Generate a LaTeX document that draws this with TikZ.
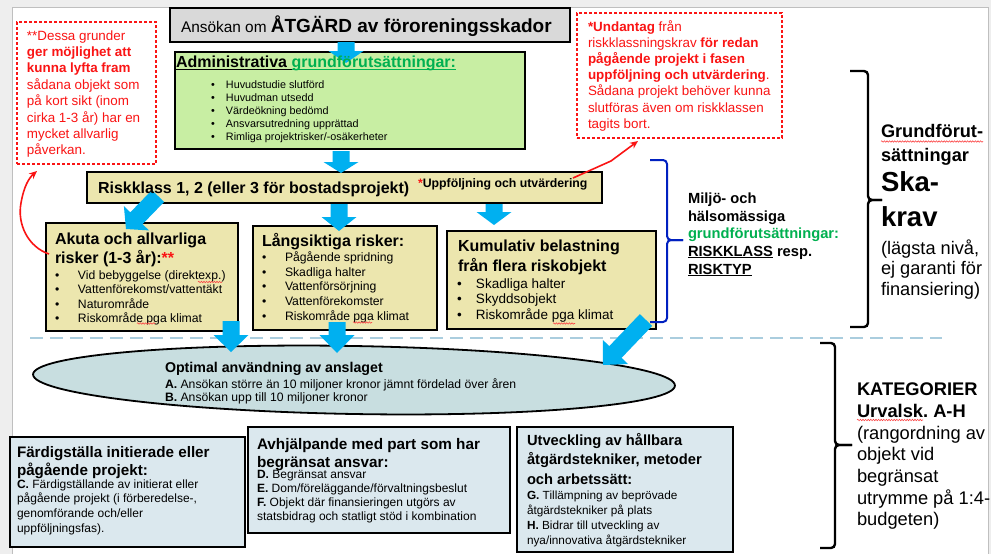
\documentclass[tikz,border=0pt]{standalone}
\usepackage{fontspec}
\setmainfont{Liberation Sans}
\usetikzlibrary{arrows.meta,shapes.geometric,calc,decorations.pathmorphing}
\definecolor{arrowblue}{RGB}{0,176,240}
\definecolor{greenfill}{RGB}{200,238,163}
\definecolor{khaki}{RGB}{236,230,174}
\definecolor{ellfill}{RGB}{200,222,224}
\definecolor{bluebox}{RGB}{219,232,238}
\definecolor{greentext}{RGB}{0,176,80}
\definecolor{redc}{RGB}{250,20,20}
\definecolor{titlegray}{RGB}{217,217,217}
\definecolor{dashblue}{RGB}{170,205,222}
\definecolor{braceblue}{RGB}{0,32,192}
\definecolor{stripgray}{RGB}{238,238,238}
\newcommand\fs[2]{\fontsize{#1}{#2}\selectfont}
\newcommand\tb[1]{\begin{tabular}[t]{@{}l@{}}#1\end{tabular}}
\newcommand\bul[1]{\makebox[#1][l]{•}}
\newcommand\myul[1]{\setbox0\hbox{#1}\rlap{\rule[-1.9pt]{\wd0}{1.1pt}}\box0\relax}
\newcommand\barrow[3][14pt]{%
  \coordinate (hb) at ($(#3)!#1!(#2)$);
  \fill[arrowblue] ($(#2)!8.5pt!90:(#3)$) -- ($(hb)!8.5pt!-90:(#2)$) -- ($(hb)!17.5pt!-90:(#2)$) -- (#3)
    -- ($(hb)!17.5pt!90:(#2)$) -- ($(hb)!8.5pt!90:(#2)$) -- ($(#2)!8.5pt!-90:(#3)$) -- cycle;}
\tikzset{
  box/.style={draw=black, line width=1.8pt, inner sep=0pt},
  notebox/.style={draw=redc, dash pattern=on 3pt off 2pt, line width=1.1pt, inner sep=0pt},
  txt/.style={anchor=base west, inner sep=0pt, outer sep=0pt},
  bracepath/.style={line width=2.4pt, rounded corners=4pt},
  squiggle/.style={draw=redc!80, line width=0.6pt, decorate, decoration={snake, amplitude=0.7pt, segment length=2.6pt}},
}
\begin{document}
\begin{tikzpicture}[x=1pt,y=-1pt]
\useasboundingbox (0,0) rectangle (991,554);
\fill[stripgray] (0,0) rectangle (991,554);
\fill[white] (12,7) rectangle (988,554);
\draw[black!25, line width=0.8pt] (12,554) -- (12,7) -- (988,7) -- (988,554);

% red notes
\node[notebox, minimum width=139, minimum height=142] (noteL) at (86.5,93) {};
\node[notebox, minimum width=205, minimum height=125] (noteR) at (679.5,75.5) {};

% boxes
\node[box, fill=titlegray, minimum width=400, minimum height=34] (title) at (370,25) {};
\node[box, fill=greenfill, minimum width=350, minimum height=97] (admin) at (350,100.5) {};
\node[box, fill=khaki, minimum width=515, minimum height=31] (risk) at (344.5,187.5) {};
\node[box, fill=khaki, minimum width=192, minimum height=108] (akuta) at (142,277) {};
\node[box, fill=khaki, minimum width=184, minimum height=104] (lang) at (345,278) {};
\node[box, fill=khaki, minimum width=209, minimum height=98] (kum) at (551.5,280) {};
\node[box, fill=bluebox, minimum width=235, minimum height=110] (fard) at (127.5,492) {};
\node[box, fill=bluebox, minimum width=262, minimum height=106] (avhj) at (379,480) {};
\node[box, fill=bluebox, minimum width=216, minimum height=125] (utv) at (625,489.5) {};

% dashed separator
\coordinate (dashL) at (30,337.5);
\coordinate (dashR) at (942,337.5);
\draw[dashblue, line width=2pt, dash pattern=on 13pt off 7pt] (dashL) -- (dashR);

% ellipse
\node[ellipse, draw=black, line width=1.8pt, fill=ellfill, minimum width=642, minimum height=68, inner sep=0pt, rotate=-1] (ell) at (354,380) {};

% blue block arrows
\coordinate (a1s) at (346,42);  \coordinate (a1e) at (346,63);
\coordinate (a2s) at (341,151); \coordinate (a2e) at (341,173);
\coordinate (a3s) at (158,196); \coordinate (a3e) at (126,229);
\coordinate (a4s) at (339,204); \coordinate (a4e) at (339,231);
\coordinate (a5s) at (494,204); \coordinate (a5e) at (494,225);
\coordinate (a6s) at (231,321); \coordinate (a6e) at (231,352);
\coordinate (a7s) at (337,322); \coordinate (a7e) at (337,353);
\coordinate (a8s) at (646,320); \coordinate (a8e) at (603,365);
\barrow[12pt]{a1s}{a1e}
\barrow[11pt]{a2s}{a2e}
\barrow[15pt]{a3s}{a3e}
\barrow[14pt]{a4s}{a4e}
\barrow[13pt]{a5s}{a5e}
\barrow[17pt]{a6s}{a6e}
\barrow[18pt]{a7s}{a7e}
\barrow[18pt]{a8s}{a8e}

% red arrows
\coordinate (rl1) at (49,254); \coordinate (rl2) at (37,171);
\draw[redc, line width=1.6pt, -{Stealth[length=8pt,width=7pt]}] (rl1) .. controls (28,247) and (17,224) .. (21,203) .. controls (24,186) and (29,178) .. (rl2);
\coordinate (rr1) at (573,178); \coordinate (rr2) at (611,161); \coordinate (rr3) at (638,141);
\draw[redc, line width=1.6pt, -{Stealth[length=8pt,width=7pt]}] (rr1) -- (rr2) -- (rr3);

% braces
\draw[braceblue, line width=2pt, rounded corners=4pt] (650,160) -- (667,160) -- (667,240) -- (683,240);
\draw[braceblue, line width=2pt, rounded corners=4pt] (683,240) -- (667,240) -- (667,322) -- (650,322);
\draw[black, bracepath] (850,71) -- (868,71) -- (868,200) -- (882,200);
\draw[black, bracepath] (882,200) -- (868,200) -- (868,327) -- (850,327);
\draw[black, bracepath] (820,343) -- (835,343) -- (835,445) -- (852,445);
\draw[black, bracepath] (852,445) -- (835,445) -- (835,548) -- (820,548);

% texts
\node[txt] (titletxt) at (181,32.3) {{\fs{15.4}{18}Ansökan om\ }{\fs{19}{22}\bfseries ÅTGÄRD av föroreningsskador}};
\node[txt, font=\fs{16}{19}\bfseries] (admtitle) at (176,67.7) {\myul{Administrativa }\textcolor{greentext}{\myul{grundförutsättningar:}}};
\node[txt, font=\fs{10.8}{13}] (admlist) at (211,88.5) {\tb{\bul{15pt}Huvudstudie slutförd\\\bul{15pt}Huvudman utsedd\\\bul{15pt}Värdeökning bedömd\\\bul{15pt}Ansvarsutredning upprättad\\\bul{15pt}Rimliga projektrisker/-osäkerheter}};
\node[txt, font=\fs{16}{19}\bfseries] (risktxt) at (98,193.3) {Riskklass 1, 2 (eller 3 för bostadsprojekt)};
\node[txt, font=\fs{12.3}{14}\bfseries] (uppf) at (418,187.5) {\textcolor{redc}{*}Uppföljning och utvärdering};

\node[txt, font=\fs{16}{19}\bfseries] (akutatitle) at (55,244.3) {\tb{Akuta och allvarliga\\risker (1-3 år):\textcolor{redc}{**}}};
\node[txt, font=\fs{12.2}{14.5}] (akutalist) at (55,279.3) {\tb{\bul{23pt}Vid bebyggelse (direktexp.)\\\bul{23pt}Vattenförekomst/vattentäkt\\\bul{23pt}Naturområde\\\bul{23pt}Riskområde pga klimat}};
\node[txt, font=\fs{16}{19}\bfseries] (langtitle) at (262,246) {Långsiktiga risker:};
\node[txt, font=\fs{12.2}{14.6}] (langlist) at (262,261.7) {\tb{\bul{23pt}Pågående spridning\\\bul{23pt}Skadliga halter\\\bul{23pt}Vattenförsörjning\\\bul{23pt}Vattenförekomster\\\bul{23pt}Riskområde pga klimat}};
\node[txt, font=\fs{16}{19.3}\bfseries] (kumtitle) at (458,251.7) {\tb{Kumulativ belastning\\från flera riskobjekt}};
\node[txt, font=\fs{13.5}{15.5}] (kumlist) at (457,288.3) {\tb{\bul{19pt}Skadliga halter\\\bul{19pt}Skyddsobjekt\\\bul{19pt}Riskområde pga klimat}};

\node[txt, font=\fs{14.2}{17}\bfseries] (elltitle) at (165,372.7) {Optimal användning av anslaget};
\node[txt, font=\fs{12.2}{13.5}] (elllist) at (165,388.3) {\tb{\textbf{A.} Ansökan större än 10 miljoner kronor jämnt fördelad över åren\\\textbf{B.} Ansökan upp till 10 miljoner kronor}};

\node[txt, font=\fs{15.2}{17}\bfseries] (fardtitle) at (17,457.5) {\tb{Färdigställa initierade eller\\pågående projekt:}};
\node[txt, font=\fs{12}{14.6}] (fardlist) at (17,488.3) {\tb{\textbf{C.} Färdigställande av initierat eller\\pågående projekt (i förberedelse-,\\genomförande och/eller\\uppföljningsfas).}};
\node[txt, font=\fs{15.3}{17.5}\bfseries] (avhjtitle) at (257,449.5) {\tb{Avhjälpande med part som har\\begränsat ansvar:}};
\node[txt, font=\fs{12}{14.1}] (avhjlist) at (257,478.5) {\tb{\textbf{D.} Begränsat ansvar\\\textbf{E.} Dom/föreläggande/förvaltningsbeslut\\\textbf{F.} Objekt där finansieringen utgörs av\\statsbidrag och statligt stöd i kombination}};
\node[txt, font=\fs{14.7}{19.5}\bfseries] (utvtitle) at (527,445) {\tb{Utveckling av hållbara\\åtgärdstekniker, metoder\\och arbetssätt:}};
\node[txt, font=\fs{11.8}{15}] (utvlist) at (527,499) {\tb{\textbf{G.} Tillämpning av beprövade\\åtgärdstekniker på plats\\\textbf{H.} Bidrar till utveckling av\\nya/innovativa åtgärdstekniker}};

\node[txt, font=\fs{14.7}{17.7}\bfseries] (miljo) at (688,203.3) {\tb{Miljö- och\\hälsomässiga\\\textcolor{greentext}{grundförutsättningar:}\\\myul{RISKKLASS} resp.\\\myul{RISKTYP}}};
\node[txt, font=\fs{18.2}{24.4}\bfseries] (grund) at (881,137.3) {\tb{Grundförut-\\sättningar}};
\node[txt, font=\fs{27.5}{35}\bfseries] (ska) at (881,191.7) {\tb{Ska-\\krav}};
\node[txt, font=\fs{18.2}{20.5}] (lagsta) at (881,254) {\tb{(lägsta nivå,\\ej garanti för\\finansiering)}};
\node[txt, font=\fs{18.3}{21.7}] (kat) at (857,395.7) {\tb{\textbf{KATEGORIER}\\\textbf{Urvalsk.\ A-H}\\(rangordning av\\objekt vid\\begränsat\\utrymme på 1:4-\\budgeten)}};

\node[txt, font=\fs{13.4}{16.4}, text=redc] (noteLtxt) at (27,40) {\tb{**Dessa grunder\\\textbf{ger möjlighet att}\\\textbf{kunna lyfta fram}\\sådana objekt som\\på kort sikt (inom\\cirka 1-3 år) har en\\mycket allvarlig\\påverkan.}};
\node[txt, font=\fs{13.4}{16.2}, text=redc] (noteRtxt) at (588,31) {\tb{\textbf{*Undantag} från\\riskklassningskrav \textbf{för redan}\\\textbf{pågående projekt i fasen}\\\textbf{uppföljning och utvärdering}.\\Sådana projekt behöver kunna\\slutföras även om riskklassen\\tagits bort.}};

% spell-check squiggles
\draw[squiggle] (198,282) -- (222,282);
\draw[squiggle] (137,323.5) -- (155,323.5);
\draw[squiggle] (353,322.5) -- (372,322.5);
\draw[squiggle] (553,323.5) -- (575,323.5);
\draw[squiggle] (881,141.5) -- (983,141.5);
\draw[squiggle] (857,420) -- (923,420);
\end{tikzpicture}
\end{document}
